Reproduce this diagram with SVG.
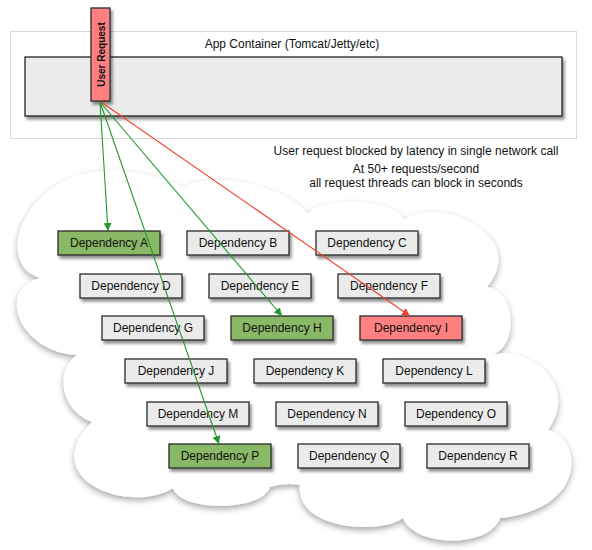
<svg xmlns="http://www.w3.org/2000/svg" width="592" height="550" viewBox="0 0 592 550">
<defs>
<style>
.t{font-family:"Liberation Sans",Arial,sans-serif;font-size:12px;fill:#111;}
.c{text-anchor:middle;}
.box{stroke:#2a2a2a;stroke-width:1.3;}
.gray{fill:#ebebeb;}
.green{fill:#89b866;}
.red{fill:#ff8080;}
.g{stroke:#22982a;stroke-width:1.1;fill:none;}
.r{stroke:#f0402a;stroke-width:1.1;fill:none;}
</style>
<filter id="sh" x="-20%" y="-20%" width="150%" height="160%">
<feDropShadow dx="2" dy="3" stdDeviation="1.6" flood-color="#000" flood-opacity="0.45"/>
</filter>
<filter id="csh" x="-10%" y="-10%" width="120%" height="125%">
<feDropShadow dx="0" dy="3" stdDeviation="3" flood-color="#000" flood-opacity="0.35"/>
</filter>
<marker id="ag" viewBox="0 0 10 10" refX="10" refY="5" markerWidth="8" markerHeight="8" markerUnits="userSpaceOnUse" orient="auto">
<path d="M0,0 L10,5 L0,10 z" fill="#22982a"/>
</marker>
<marker id="ar" viewBox="0 0 10 10" refX="10" refY="5" markerWidth="8" markerHeight="8" markerUnits="userSpaceOnUse" orient="auto">
<path d="M0,0 L10,5 L0,10 z" fill="#f0402a"/>
</marker>
</defs>
<rect width="592" height="550" fill="#fff"/>

<g id="cloud" filter="url(#csh)">
<path fill="#fff" d="M40,278 C-18,262 40,122 185,188 C200,172 280,180 308,214 C318,198 390,195 405,220 C440,195 530,235 487,287 C515,290 520,345 492,355 C530,345 580,385 548,430 C585,440 585,510 500,518 C490,548 415,548 403,518 C380,535 295,530 300,485 Q285,482 270,487 C262,512 180,512 173,488 C130,515 35,480 92,422 C60,410 55,370 77,355 C20,352 -5,290 40,278 Z"/>
</g>

<g id="app-container">
<rect x="10.5" y="31.5" width="566" height="107" fill="#fff" stroke="#d8d8d8" stroke-width="1"/>
<text class="t c" x="292" y="48">App Container (Tomcat/Jetty/etc)</text>
<rect x="25" y="57" width="537" height="59" fill="#ebebeb" stroke="#222" stroke-width="1.3" filter="url(#sh)"/>
</g>

<g id="user-request">
<rect class="box red" x="91" y="8" width="19" height="93" filter="url(#sh)"/>
<text class="t c" style="font-size:10px;font-weight:bold" transform="translate(104.5,54.5) rotate(-90)">User Request</text>
</g>

<g id="notes">
<text class="t c" x="416" y="155">User request blocked by latency in single network call</text>
<text class="t c" x="416" y="173">At 50+ requests/second</text>
<text class="t c" x="416" y="187">all request threads can block in seconds</text>
</g>

<g id="dep-a"><rect class="box green" x="58" y="231" width="102" height="24" filter="url(#sh)"/><text class="t c" x="109" y="247">Dependency A</text></g>
<g id="dep-b"><rect class="box gray" x="187" y="231" width="102" height="24" filter="url(#sh)"/><text class="t c" x="238" y="247">Dependency B</text></g>
<g id="dep-c"><rect class="box gray" x="316" y="231" width="102" height="24" filter="url(#sh)"/><text class="t c" x="367" y="247">Dependency C</text></g>

<g id="dep-d"><rect class="box gray" x="80" y="274" width="102" height="24" filter="url(#sh)"/><text class="t c" x="131" y="290">Dependency D</text></g>
<g id="dep-e"><rect class="box gray" x="209" y="274" width="102" height="24" filter="url(#sh)"/><text class="t c" x="260" y="290">Dependency E</text></g>
<g id="dep-f"><rect class="box gray" x="338" y="274" width="102" height="24" filter="url(#sh)"/><text class="t c" x="389" y="290">Dependency F</text></g>

<g id="dep-g"><rect class="box gray" x="102" y="316" width="102" height="24" filter="url(#sh)"/><text class="t c" x="153" y="332">Dependency G</text></g>
<g id="dep-h"><rect class="box green" x="231" y="316" width="102" height="24" filter="url(#sh)"/><text class="t c" x="282" y="332">Dependency H</text></g>
<g id="dep-i"><rect class="box red" x="360" y="316" width="102" height="24" filter="url(#sh)"/><text class="t c" x="411" y="332">Dependency I</text></g>

<g id="dep-j"><rect class="box gray" x="125" y="359" width="102" height="24" filter="url(#sh)"/><text class="t c" x="176" y="375">Dependency J</text></g>
<g id="dep-k"><rect class="box gray" x="254" y="359" width="102" height="24" filter="url(#sh)"/><text class="t c" x="305" y="375">Dependency K</text></g>
<g id="dep-l"><rect class="box gray" x="383" y="359" width="102" height="24" filter="url(#sh)"/><text class="t c" x="434" y="375">Dependency L</text></g>

<g id="dep-m"><rect class="box gray" x="147" y="402" width="102" height="24" filter="url(#sh)"/><text class="t c" x="198" y="418">Dependency M</text></g>
<g id="dep-n"><rect class="box gray" x="276" y="402" width="102" height="24" filter="url(#sh)"/><text class="t c" x="327" y="418">Dependency N</text></g>
<g id="dep-o"><rect class="box gray" x="405" y="402" width="102" height="24" filter="url(#sh)"/><text class="t c" x="456" y="418">Dependency O</text></g>

<g id="dep-p"><rect class="box green" x="169" y="444" width="102" height="24" filter="url(#sh)"/><text class="t c" x="220" y="460">Dependency P</text></g>
<g id="dep-q"><rect class="box gray" x="298" y="444" width="102" height="24" filter="url(#sh)"/><text class="t c" x="349" y="460">Dependency Q</text></g>
<g id="dep-r"><rect class="box gray" x="427" y="444" width="102" height="24" filter="url(#sh)"/><text class="t c" x="478" y="460">Dependency R</text></g>

<g id="connectors">
<line class="g" x1="100" y1="102" x2="108" y2="231" marker-end="url(#ag)"/>
<line class="g" x1="100" y1="102" x2="219" y2="444" marker-end="url(#ag)"/>
<line class="g" x1="100" y1="102" x2="282" y2="316" marker-end="url(#ag)"/>
<line class="r" x1="101" y1="102" x2="410" y2="316" marker-end="url(#ar)"/>
</g>
</svg>
